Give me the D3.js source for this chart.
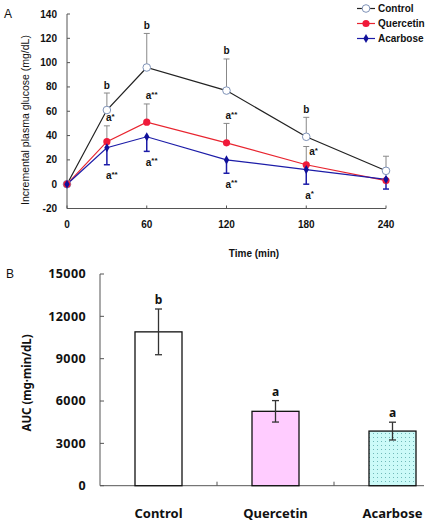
<!DOCTYPE html>
<html><head><meta charset="utf-8">
<script src="https://cdn.jsdelivr.net/npm/d3@7"></script>
<style>body{margin:0;background:#fff}svg{display:block}</style>
</head><body>
<script>
// ---- Panel A data ----
const times = [0, 30, 60, 120, 180, 240];
const controlVals = [0, 61, 96, 77, 39, 11];
const controlErr = [0, 14, 28, 26, 16, 12];
const quercetinVals = [0, 35, 51, 34, 16, 3];
const quercetinErr = [0, 13, 15, 16, 15, 0];
const acarboseVals = [0, 30, 39, 20, 12, 4];
const acarboseErr = [0, 14, 12, 11, 12, 8];
const controlLabels = ["", "b", "b", "b", "b", ""];
const quercetinLabels = ["", "a*", "a**", "a**", "a*", ""];
const acarboseLabels = ["", "a**", "a**", "a**", "a*", ""];
const xTicksA = [0, 60, 120, 180, 240];
const yTicksA = [-20, 0, 20, 40, 60, 80, 100, 120, 140];
// ---- Panel B data ----
const groups = ["Control", "Quercetin", "Acarbose"];
const aucVals = [10900, 5270, 3870];
const aucErr = [1620, 760, 630];
const aucLabels = ["b", "a", "a"];
const yTicksB = [0, 3000, 6000, 9000, 12000, 15000];

const W = 427, H = 522;
const svg = d3.select("body").append("svg").attr("width", W).attr("height", H);
const fA = "'Liberation Sans', Arial, sans-serif";
const fB = "'Noto Sans', 'Open Sans', sans-serif";
const axisCol = "#555";

// ===== Panel A =====
const xA = d3.scaleLinear().domain([0, 240]).range([67, 386]);
const yA = d3.scaleLinear().domain([-20, 140]).range([208.5, 14]);
const gA = svg.append("g");

gA.append("line").attr("x1", xA(0)).attr("x2", xA(240)).attr("y1", yA(-20)).attr("y2", yA(-20)).attr("stroke", axisCol);
gA.append("line").attr("x1", xA(0)).attr("x2", xA(0)).attr("y1", yA(-20)).attr("y2", yA(140)).attr("stroke", axisCol);
yTicksA.forEach(v => {
  gA.append("line").attr("x1", xA(0)).attr("x2", xA(0) + 3).attr("y1", yA(v)).attr("y2", yA(v)).attr("stroke", axisCol);
  gA.append("text").attr("x", 57).attr("y", yA(v)).attr("dy", "0.35em").attr("text-anchor", "end")
    .attr("font-family", fA).attr("font-weight", "bold").attr("font-size", 10).attr("fill", "#111").text(v);
});
xTicksA.forEach(v => {
  gA.append("line").attr("x1", xA(v)).attr("x2", xA(v)).attr("y1", yA(-20)).attr("y2", yA(-20) - 3).attr("stroke", axisCol);
  gA.append("text").attr("x", xA(v)).attr("y", 224).attr("dy", "0.35em").attr("text-anchor", "middle")
    .attr("font-family", fA).attr("font-weight", "bold").attr("font-size", 10).attr("fill", "#111").text(v);
});
gA.append("text").attr("x", 254).attr("y", 253).attr("dy", "0.35em").attr("text-anchor", "middle")
  .attr("font-family", fA).attr("font-weight", "bold").attr("font-size", 10).attr("fill", "#111").text("Time (min)");
gA.append("text").attr("transform", "translate(25,120) rotate(-90)").attr("dy", "0.35em").attr("text-anchor", "middle")
  .attr("font-family", fA).attr("font-size", 10.5).attr("fill", "#111").text("Incremental plasma glucose (mg/dL)");
svg.append("text").attr("x", 4).attr("y", 14).attr("dy", "0.35em").attr("font-family", fA).attr("font-size", 12).attr("fill", "#111").text("A");

const series = [
  {name: "Control", vals: controlVals, err: controlErr, dir: -1, line: "#222", errCol: "#888", labels: controlLabels},
  {name: "Quercetin", vals: quercetinVals, err: quercetinErr, dir: -1, line: "#e8242f", errCol: "#888", labels: quercetinLabels},
  {name: "Acarbose", vals: acarboseVals, err: acarboseErr, dir: 1, line: "#1c1ca8", errCol: "#1c1ca8", labels: acarboseLabels}
];
const lineGen = d3.line().x((d, i) => xA(times[i])).y(d => yA(d));

// error bars
series.forEach(s => {
  s.vals.forEach((v, i) => {
    if (!s.err[i]) return;
    const end = s.dir < 0 ? v + s.err[i] : v - s.err[i];
    gA.append("line").attr("x1", xA(times[i])).attr("x2", xA(times[i])).attr("y1", yA(v)).attr("y2", yA(end))
      .attr("stroke", s.errCol).attr("stroke-width", s.name === "Acarbose" ? 1.5 : 1);
    gA.append("line").attr("x1", xA(times[i]) - 3).attr("x2", xA(times[i]) + 3).attr("y1", yA(end)).attr("y2", yA(end))
      .attr("stroke", s.errCol).attr("stroke-width", s.name === "Acarbose" ? 1.5 : 1);
  });
});
// lines
series.forEach(s => {
  gA.append("path").datum(s.vals).attr("d", lineGen).attr("fill", "none").attr("stroke", s.line).attr("stroke-width", 1.2);
});
function marker(g, name, x, y) {
  if (name === "Control") g.append("circle").attr("cx", x).attr("cy", y).attr("r", 3.8).attr("fill", "#fff").attr("stroke", "#7f93b8").attr("stroke-width", 1);
  else if (name === "Quercetin") g.append("circle").attr("cx", x).attr("cy", y).attr("r", 3.6).attr("fill", "#f01a3a");
  else g.append("path").attr("d", d3.symbol(d3.symbolDiamond, 24)()).attr("transform", `translate(${x},${y})`).attr("fill", "#10109a");
}
series.forEach(s => {
  s.vals.forEach((v, i) => marker(gA, s.name, xA(times[i]), yA(v)));
});
// significance labels
series.forEach(s => {
  s.vals.forEach((v, i) => {
    if (!s.labels[i]) return;
    const end = s.dir < 0 ? v + s.err[i] : v - s.err[i];
    let y = s.dir < 0 ? yA(end) - 8 : yA(end) + 11;
    let x = xA(times[i]) - 1;
    // if the label would sit right on the Control marker, put it beside the bar instead
    if (s.name !== "Control" && Math.abs(y - yA(controlVals[i])) < 5) { y = yA(end) + 5; x = xA(times[i]) + 3; }
    const t = gA.append("text").attr("x", x).attr("y", y).attr("dy", "0.35em")
      .attr("font-family", fA).attr("font-weight", "bold").attr("font-size", 10).attr("fill", "#111");
    const base = s.labels[i][0], stars = s.labels[i].slice(1);
    t.append("tspan").text(base);
    if (stars) t.append("tspan").attr("dy", "-0.3em").attr("font-size", 8).text(stars);
    if (!stars) t.attr("x", xA(times[i])).attr("text-anchor", "middle");
  });
});
// legend
series.forEach((s, i) => {
  const ly = 8.5 + i * 15;
  gA.append("line").attr("x1", 357).attr("x2", 375).attr("y1", ly).attr("y2", ly).attr("stroke", s.line).attr("stroke-width", 1.2);
  marker(gA, s.name, 366, ly);
  gA.append("text").attr("x", 378).attr("y", ly).attr("dy", "0.35em").attr("font-family", fA).attr("font-weight", "bold")
    .attr("font-size", 10).attr("fill", "#111").text(s.name);
});

// ===== Panel B =====
const yB = d3.scaleLinear().domain([0, 15000]).range([485.7, 274]);
const xB = d3.scaleBand().domain(groups).range([100, 451]).paddingInner(0).paddingOuter(0);
const gB = svg.append("g");
const defs = svg.append("defs");
const pat = defs.append("pattern").attr("id", "dots").attr("patternUnits", "userSpaceOnUse").attr("width", 4).attr("height", 4);
pat.append("rect").attr("width", 4).attr("height", 4).attr("fill", "#ccfaf8");
pat.append("rect").attr("x", 1).attr("y", 1).attr("width", 1).attr("height", 1).attr("fill", "#6fb8b8");
const fills = ["#ffffff", "#ffccff", "url(#dots)"];

gB.append("line").attr("x1", 100).attr("x2", 424).attr("y1", yB(0)).attr("y2", yB(0)).attr("stroke", axisCol);
gB.append("line").attr("x1", 100).attr("x2", 100).attr("y1", yB(0)).attr("y2", yB(15000)).attr("stroke", axisCol);
yTicksB.forEach(v => {
  gB.append("line").attr("x1", 100).attr("x2", 104).attr("y1", yB(v)).attr("y2", yB(v)).attr("stroke", axisCol);
  gB.append("text").attr("x", 86).attr("y", yB(v)).attr("dy", "0.35em").attr("text-anchor", "end")
    .attr("font-family", fB).attr("font-weight", "bold").attr("font-size", 12.5).attr("letter-spacing", 0.4).attr("fill", "#111").text(v);
});
groups.forEach((g, i) => {
  if (i > 0) gB.append("line").attr("x1", xB(g)).attr("x2", xB(g)).attr("y1", yB(0)).attr("y2", yB(0) - 4).attr("stroke", axisCol);
  const cx = xB(g) + xB.bandwidth() / 2;
  gB.append("rect").attr("x", cx - 23.5).attr("width", 47).attr("y", yB(aucVals[i])).attr("height", yB(0) - yB(aucVals[i]))
    .attr("fill", fills[i]).attr("stroke", "#111").attr("stroke-width", 1.3);
  const t = yB(aucVals[i] + aucErr[i]), b = yB(aucVals[i] - aucErr[i]);
  gB.append("line").attr("x1", cx).attr("x2", cx).attr("y1", t).attr("y2", b).attr("stroke", "#333").attr("stroke-width", 1.3);
  [t, b].forEach(yy => gB.append("line").attr("x1", cx - 3.5).attr("x2", cx + 3.5).attr("y1", yy).attr("y2", yy).attr("stroke", "#333").attr("stroke-width", 1.3));
  gB.append("text").attr("x", cx).attr("y", t - 9).attr("dy", "0.35em").attr("text-anchor", "middle")
    .attr("font-family", fB).attr("font-weight", "bold").attr("font-size", 12).attr("fill", "#111").text(aucLabels[i]);
  gB.append("text").attr("x", cx).attr("y", 513).attr("dy", "0.35em").attr("text-anchor", "middle")
    .attr("font-family", fB).attr("font-weight", "bold").attr("font-size", 13).attr("fill", "#111").text(g);
});
gB.append("text").attr("transform", "translate(27,383) rotate(-90)").attr("dy", "0.35em").attr("text-anchor", "middle")
  .attr("font-family", fB).attr("font-weight", "bold").attr("font-size", 11.5).attr("fill", "#111").text("AUC (mg·min/dL)");
svg.append("text").attr("x", 6).attr("y", 274).attr("dy", "0.35em").attr("font-family", fA).attr("font-size", 12).attr("fill", "#111").text("B");
</script>
</body></html>
